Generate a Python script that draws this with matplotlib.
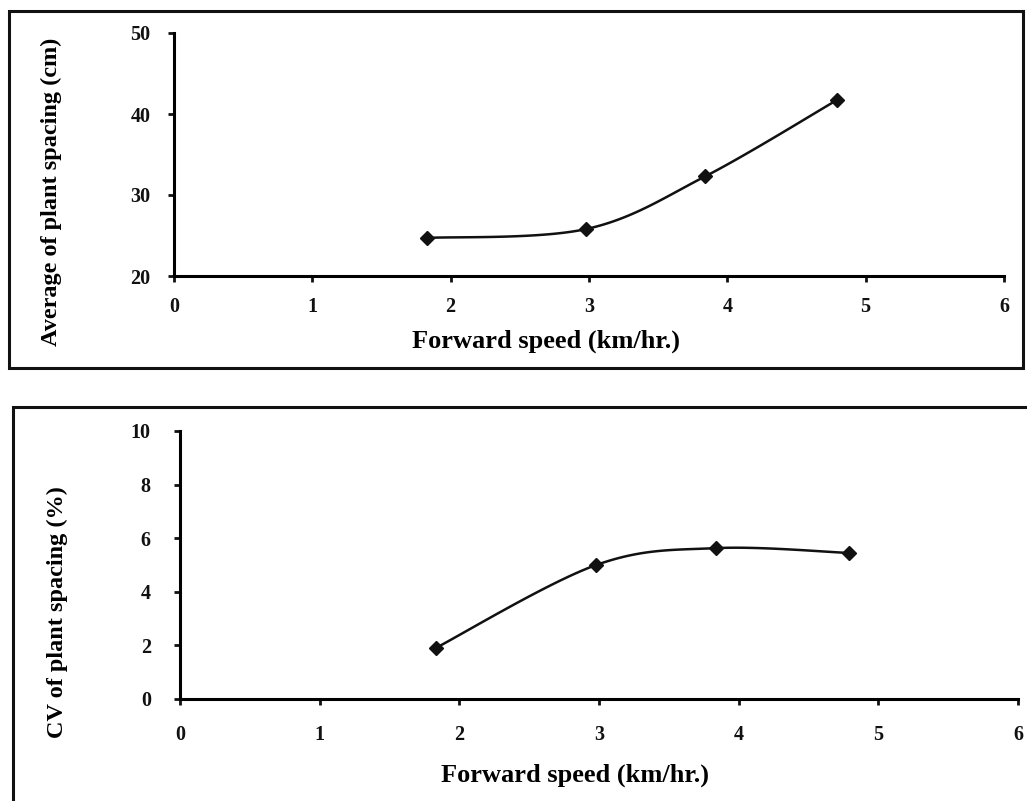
import numpy as np
import matplotlib
matplotlib.use("Agg")
import matplotlib.pyplot as plt
from matplotlib.patches import Rectangle

# ---- data ----
speed = [1.83, 2.98, 3.84, 4.79]
avg_spacing = [24.7, 25.8, 32.3, 41.7]
cv_spacing = [1.9, 5.0, 5.63, 5.45]
x_ticks = [0, 1, 2, 3, 4, 5, 6]
y_ticks_top = [20, 30, 40, 50]
y_ticks_bot = [0, 2, 4, 6, 8, 10]
xlabel = "Forward speed (km/hr.)"
ylabel_top = "Average of plant spacing (cm)"
ylabel_bot = "CV of plant spacing (%)"

W, H = 1027, 801
plt.rcParams['font.family'] = ['Liberation Serif', 'DejaVu Serif']
fig = plt.figure(figsize=(W / 100, H / 100), dpi=100)


def smooth(xs, ys, n=40):
    # Catmull-Rom style smoothing (like spreadsheet "smoothed line")
    xs = np.asarray(xs, float)
    ys = np.asarray(ys, float)
    P = np.column_stack([xs, ys])
    Pe = np.vstack([P[0], P, P[-1]])
    out = []
    for i in range(1, len(Pe) - 2):
        p0, p1, p2, p3 = Pe[i - 1], Pe[i], Pe[i + 1], Pe[i + 2]
        c1 = p1 + (p2 - p0) / 6.0
        c2 = p2 - (p3 - p1) / 6.0
        t = np.linspace(0, 1, n)[:, None]
        b = ((1 - t) ** 3) * p1 + 3 * ((1 - t) ** 2) * t * c1 + 3 * (1 - t) * t ** 2 * c2 + t ** 3 * p2
        out.append(b if i == 1 else b[1:])
    out = np.vstack(out)
    return out[:, 0], out[:, 1]


def px_axes(l, t, r, b):
    return fig.add_axes([l / W, 1 - b / H, (r - l) / W, (b - t) / H])


def style(ax, yticks, ylim, ypad, xpad):
    ax.set_xlim(0, 6)
    ax.set_ylim(*ylim)
    ax.set_xticks(x_ticks)
    ax.set_yticks(yticks)
    for s in ['top', 'right']:
        ax.spines[s].set_visible(False)
    for s in ['left', 'bottom']:
        ax.spines[s].set_linewidth(2.2)
    ax.tick_params(axis='both', direction='out', length=4, width=2.0,
                   labelsize=14.5, colors='#111111')
    ax.tick_params(axis='y', pad=ypad)
    ax.tick_params(axis='x', pad=xpad)
    for lab in ax.get_xticklabels() + ax.get_yticklabels():
        lab.set_fontweight('bold')


# ---- frames ----
fig.patches.append(Rectangle((9 / W, 1 - 368 / H), (1023 - 9) / W, (368 - 11) / H,
                             transform=fig.transFigure, fill=False, lw=2.2, ec='#111111'))
fig.patches.append(Rectangle((13 / W, 1 - 830 / H), (1030 - 13) / W, (830 - 407) / H,
                             transform=fig.transFigure, fill=False, lw=2.2, ec='#111111'))

# ---- top panel ----
ax1 = px_axes(174, 33, 1004, 276)
sx, sy = smooth(speed, avg_spacing)
ax1.plot(sx, sy, color='#111111', lw=1.8)
ax1.plot(speed, avg_spacing, ls='none', marker='D', ms=7, color='#111111')
style(ax1, y_ticks_top, (20, 50), 13, 11)
fig.text(546 / W, 1 - 341 / H, xlabel, ha='center', va='center',
         fontsize=19, fontweight='bold')
fig.text(51 / W, 1 - 192 / H, ylabel_top, ha='center', va='center',
         rotation=90, fontsize=17.5, fontweight='bold')

# ---- bottom panel ----
ax2 = px_axes(180, 431, 1018, 699)
sx, sy = smooth(speed, cv_spacing)
ax2.plot(sx, sy, color='#111111', lw=1.8)
ax2.plot(speed, cv_spacing, ls='none', marker='D', ms=7, color='#111111')
style(ax2, y_ticks_bot, (0, 10), 17, 15)
fig.text(575 / W, 1 - 775 / H, xlabel, ha='center', va='center',
         fontsize=19, fontweight='bold')
fig.text(57 / W, 1 - 612 / H, ylabel_bot, ha='center', va='center',
         rotation=90, fontsize=17.5, fontweight='bold')

fig.savefig("out.png", dpi=100)
